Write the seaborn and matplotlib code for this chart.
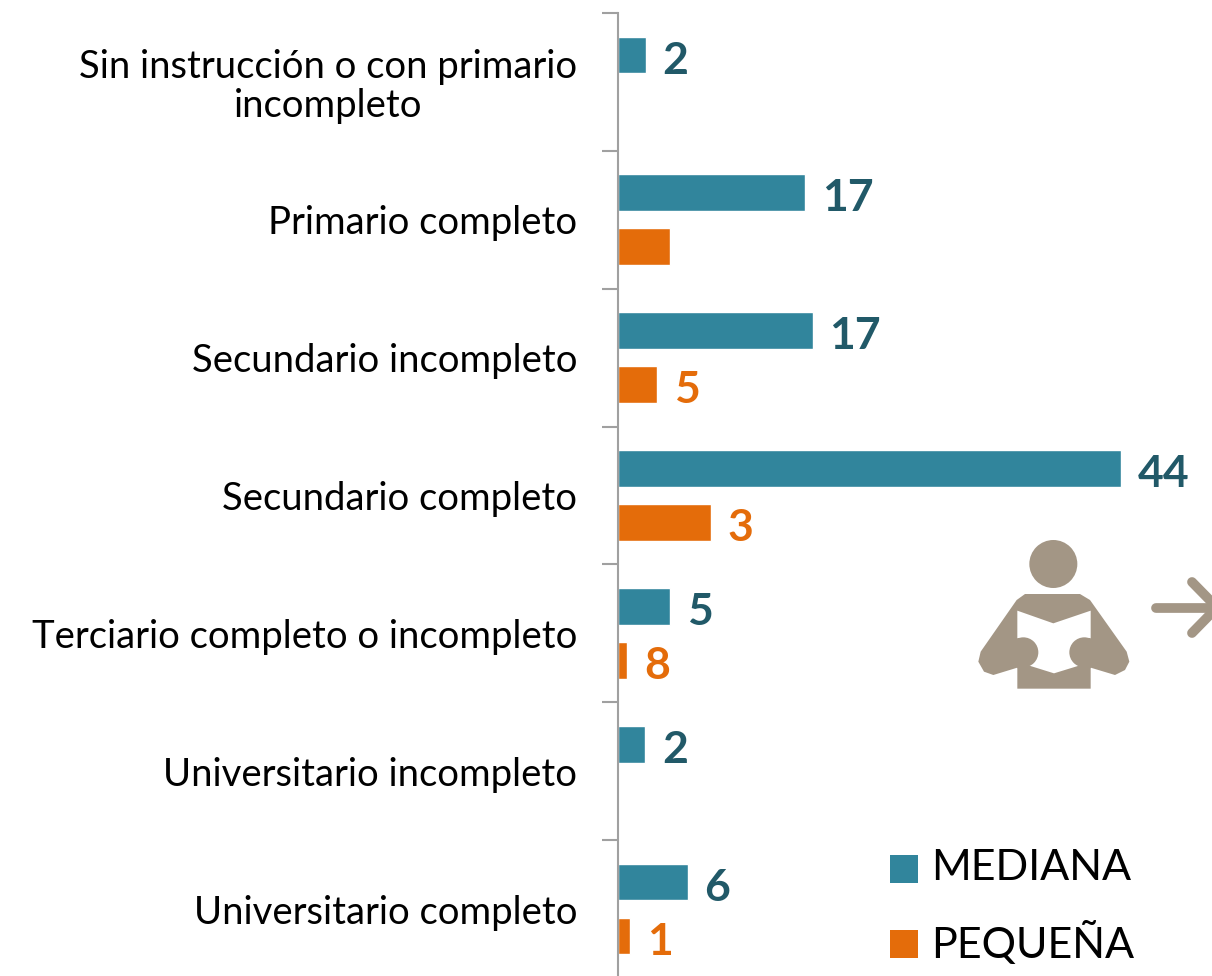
import numpy as np
import pandas as pd
import matplotlib
matplotlib.use("Agg")
import matplotlib.pyplot as plt
from matplotlib.patches import Circle, Polygon, Rectangle
from matplotlib.lines import Line2D
import seaborn as sns

categories = ["Sin instrucción o con primario\nincompleto", "Primario completo",
              "Secundario incompleto", "Secundario completo",
              "Terciario completo o incompleto", "Universitario incompleto",
              "Universitario completo"]
series_names = ["MEDIANA", "PEQUEÑA"]
mediana = [2.45, 16.4, 17.05, 44.0, 4.55, 2.4, 6.1]
pequena = [np.nan, 4.55, 3.45, 8.1, 0.8, np.nan, 1.05]
mediana_labels = ["2", "17", "17", "44", "5", "2", "6"]
pequena_labels = ["", "5", "3", "8", "1", "", "1"]

TEAL, ORANGE, TEAL_DARK = "#31859C", "#E46C0A", "#215968"
GRAY, ICON = "#A0A0A0", "#A39685"
W, H = 1212, 976
sns.set_theme(style="white")
plt.rcParams["font.family"] = ["Lato", "DejaVu Sans"]

df = pd.DataFrame({
    "cat": categories * 2,
    "serie": [series_names[0]] * 7 + [series_names[1]] * 7,
    "valor": mediana + pequena,
})

fig = plt.figure(figsize=(W / 100, H / 100), dpi=100)
ax = fig.add_axes([618 / W, (976 - 978) / H, (W - 618) / W, 965 / H])
sns.barplot(data=df, y="cat", x="valor", hue="serie", order=categories,
            hue_order=series_names, palette=[TEAL, ORANGE], orient="h",
            width=0.783, gap=0.32, ax=ax, legend=False, saturation=1)
ax.set_xlim(0, (W - 618) / 11.43)
ax.set_ylim(6.5, -0.5)
ax.set_xlabel("")
ax.set_ylabel("")
ax.xaxis.set_visible(False)
sns.despine(ax=ax, top=True, right=True, bottom=True)
ax.spines["left"].set_color(GRAY)
ax.spines["left"].set_linewidth(1.5)
ax.set_yticks(np.arange(7), categories)
ax.set_yticks(np.arange(-0.5, 6.6, 1), minor=True)
ax.tick_params(axis="y", which="major", length=0, pad=29.5, labelsize=27.5, labelcolor="black")
ax.tick_params(axis="y", which="minor", length=11.5, width=1.5, color=GRAY, left=True)
for t in ax.get_yticklabels():
    t.set_multialignment("center")
    t.set_linespacing(1.1)

for cont, labels, color in zip(ax.containers, [mediana_labels, pequena_labels], [TEAL_DARK, ORANGE]):
    for bar, lab in zip(cont, labels):
        if not lab:
            continue
        ax.annotate(lab, (bar.get_width(), bar.get_y() + bar.get_height() / 2),
                    xytext=(12, -1.5), textcoords="offset points", ha="left", va="center_baseline",
                    fontsize=32, fontweight="bold", color=color, annotation_clip=False)

# overlay in pixel coordinates: legend and icon
ov = fig.add_axes([0, 0, 1, 1], facecolor="none")
ov.set_xlim(0, W)
ov.set_ylim(H, 0)
ov.axis("off")

for y, color, name in [(869, TEAL, series_names[0]), (944, ORANGE, series_names[1])]:
    ov.add_patch(Rectangle((890, y - 14), 28, 28, color=color, lw=0))
    ov.text(931, y - 1, name, fontsize=31, color="black", va="center")

def z(p):
    return (960 + p[0] / 3, 520 + p[1] / 3)

ov.add_patch(Circle(z((280, 132)), 24, color=ICON, lw=0))
body = [(195, 222), (360, 222), (390, 240), (500, 395), (508, 425), (495, 450), (465, 465),
        (392, 443), (392, 506), (172, 506), (172, 443), (100, 465), (72, 455), (55, 425),
        (62, 395), (170, 240)]
ov.add_patch(Polygon([z(p) for p in body], color=ICON, lw=0))
book = [(172, 272), (280, 310), (392, 272), (392, 400), (360, 436), (282, 460), (205, 436), (172, 400)]
ov.add_patch(Polygon([z(p) for p in book], color="white", lw=0))
ov.add_patch(Circle(z((190, 397)), 15, color=ICON, lw=0))
ov.add_patch(Circle(z((373, 397)), 15, color=ICON, lw=0))
ov.add_patch(Polygon([z(p) for p in [(172, 354), (190, 354), (205, 436), (172, 445)]], color=ICON, lw=0))
ov.add_patch(Polygon([z(p) for p in [(392, 354), (373, 354), (360, 436), (392, 445)]], color=ICON, lw=0))
for xs, ys in [((1156, 1215), (607.5, 607.5)), ((1192, 1217, 1192), (582, 607.5, 633))]:
    ov.add_line(Line2D(xs, ys, color=ICON, lw=7, solid_capstyle="round", solid_joinstyle="round"))

fig.savefig("out.png", dpi=100, facecolor="white")
